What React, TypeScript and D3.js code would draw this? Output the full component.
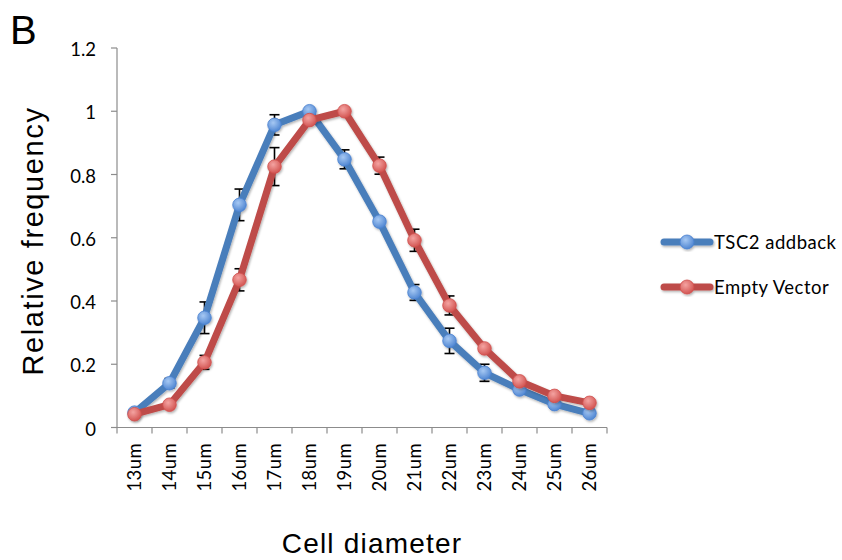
import * as d3 from "d3";

const categories = ["13um", "14um", "15um", "16um", "17um", "18um", "19um", "20um", "21um", "22um", "23um", "24um", "25um", "26um"];
const tscValues = [0.047, 0.14, 0.347, 0.704, 0.957, 1.0, 0.848, 0.651, 0.427, 0.274, 0.173, 0.12, 0.074, 0.045];
const tscErrors = [0.01, 0.015, 0.05, 0.05, 0.032, 0.01, 0.03, 0.012, 0.025, 0.04, 0.027, 0.012, 0.012, 0.008];
const evValues = [0.042, 0.072, 0.206, 0.467, 0.825, 0.972, 1.0, 0.828, 0.592, 0.386, 0.25, 0.146, 0.1, 0.078];
const evErrors = [0.008, 0.01, 0.022, 0.035, 0.06, 0.012, 0.01, 0.027, 0.035, 0.03, 0.01, 0.01, 0.01, 0.008];
const yTicks = [0, 0.2, 0.4, 0.6, 0.8, 1, 1.2];

const series = [
  { name: "TSC2 addback", values: tscValues, errors: tscErrors, line: "#4a7ebb", light: "#a6c8f3", dark: "#4a82d0", id: "gBlue" },
  { name: "Empty Vector", values: evValues, errors: evErrors, line: "#be4b48", light: "#f4a3a1", dark: "#d04f4c", id: "gRed" },
];

const calibri = "Lato, 'Open Sans', sans-serif";
const arial = "'Liberation Sans', Arial, sans-serif";

export default function App() {
  const x = d3.scaleBand().domain(categories).range([117, 607]).padding(0);
  const y = d3.scaleLinear().domain([0, 1.2]).range([427.5, 48]);
  const cx = (c: string) => (x(c) as number) + x.bandwidth() / 2;

  const line = d3
    .line<number>()
    .x((_, i) => cx(categories[i]))
    .y((d) => y(d));

  const bounds = categories.map((c) => x(c) as number).concat([607]);

  return (
    <svg width={842} height={560} style={{ position: "absolute", left: 0, top: 0, background: "#fff" }}>
      <defs>
        {series.map((s) => (
          <radialGradient key={s.id} id={s.id} cx="0.4" cy="0.35" r="0.7">
            <stop offset="0%" stopColor={s.light} />
            <stop offset="100%" stopColor={s.dark} />
          </radialGradient>
        ))}
        <filter id="shadow" x="-10%" y="-10%" width="130%" height="130%">
          <feDropShadow dx="1" dy="1.5" stdDeviation="1.2" floodColor="#000" floodOpacity="0.3" />
        </filter>
      </defs>

      <text x={10} y={44} fontFamily={arial} fontSize={40} fill="#000">B</text>

      {/* axes */}
      <g stroke="#8c8c8c" strokeWidth={1.2} fill="none">
        <line x1={117} x2={117} y1={y(1.2)} y2={y(0)} />
        <line x1={117} x2={607} y1={y(0)} y2={y(0)} />
        {yTicks.map((t) => (
          <line key={t} x1={111} x2={117} y1={y(t)} y2={y(t)} />
        ))}
        {bounds.map((b, i) => (
          <line key={i} x1={b} x2={b} y1={y(0)} y2={y(0) + 6} />
        ))}
      </g>
      {yTicks.map((t) => (
        <text key={t} x={96} y={y(t) + 8} textAnchor="end" fontFamily={calibri} fontSize={18.5} fill="#000">
          {String(t)}
        </text>
      ))}
      {categories.map((c) => (
        <text
          key={c}
          transform={`translate(${cx(c) + 6.5},443) rotate(-90)`}
          textAnchor="end"
          fontFamily={calibri}
          fontSize={18.5}
          letterSpacing={0.4}
          fill="#000"
        >
          {c}
        </text>
      ))}

      <text
        transform="translate(43,241) rotate(-90)"
        textAnchor="middle"
        fontFamily={arial}
        fontSize={29}
        letterSpacing={1.6}
        fill="#000"
      >
        Relative frequency
      </text>
      <text x={372} y={553} textAnchor="middle" fontFamily={arial} fontSize={28} letterSpacing={1.2} fill="#000">
        Cell diameter
      </text>

      {/* error bars */}
      <g stroke="#000" strokeWidth={1.6}>
        {series.map((s) =>
          s.values.map((v, i) => {
            const px = cx(categories[i]);
            const top = y(v + s.errors[i]);
            const bot = y(v - s.errors[i]);
            return (
              <g key={s.id + i}>
                <line x1={px} x2={px} y1={top} y2={bot} />
                <line x1={px - 5} x2={px + 5} y1={top} y2={top} />
                <line x1={px - 5} x2={px + 5} y1={bot} y2={bot} />
              </g>
            );
          })
        )}
      </g>

      {/* lines + markers */}
      {series.map((s) => (
        <g key={s.id} filter="url(#shadow)">
          <path d={line(s.values) as string} fill="none" stroke={s.line} strokeWidth={7} strokeLinejoin="round" strokeLinecap="round" />
          {s.values.map((v, i) => (
            <circle key={i} cx={cx(categories[i])} cy={y(v)} r={6.8} fill={`url(#${s.id})`} stroke={s.dark} strokeWidth={0.8} />
          ))}
        </g>
      ))}

      {/* legend */}
      {series.map((s, i) => {
        const ly = 242 + i * 45;
        return (
          <g key={s.id}>
            <g filter="url(#shadow)">
              <line x1={664} x2={710} y1={ly} y2={ly} stroke={s.line} strokeWidth={7} strokeLinecap="round" />
              <circle cx={687} cy={ly} r={7} fill={`url(#${s.id})`} stroke={s.dark} strokeWidth={0.8} />
            </g>
            <text x={714} y={ly + 7} fontFamily={calibri} fontSize={18.5} letterSpacing={0.5} fill="#000">
              {s.name}
            </text>
          </g>
        );
      })}
    </svg>
  );
}
